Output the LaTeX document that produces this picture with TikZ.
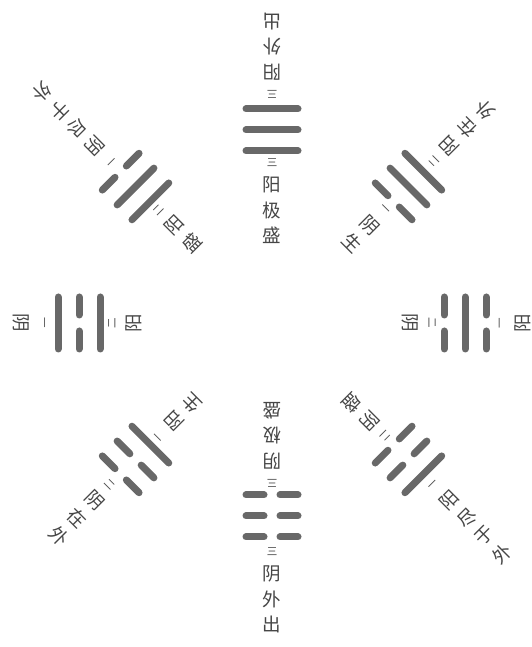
\documentclass[tikz,border=0pt]{standalone}
\usepackage{fontspec}
\newfontfamily\cjk{Noto Sans CJK SC}
\definecolor{yaogray}{RGB}{104,104,104}
\definecolor{zigray}{RGB}{70,70,70}
\tikzset{
  yao/.style={draw=yaogray, line width=7pt, line cap=round},
  zi/.style={text=zigray, font=\cjk\fontsize{18.5}{18.5}\selectfont, inner sep=0pt},
  shu/.style={text=zigray, font=\cjk\fontsize{10.5}{10.5}\selectfont, inner sep=0pt},
}
% one line of a trigram: #1 distance from the centre, #2 = 1 yang, 0 yin
\newcommand{\yao}[2]{%
  \ifnum#2=1
    \draw[yao] (-26,#1) -- (26,#1);
  \else
    \draw[yao] (-26,#1) -- (-8,#1);
    \draw[yao] (8,#1) -- (26,#1);
  \fi}
% one trigram with its inner and outer texts
\newcommand{\gua}[9]{%
  \begin{scope}[shift={(272,324)}, rotate=#2]
    \yao{172}{#3} \yao{193}{#4} \yao{214}{#5}
    \node[shu, rotate=#2] (#1-in0) at (0,160) {#6};
    \foreach \c [count=\i] in {#7}
      \node[zi, rotate=#2] (#1-in\i) at (0,{163-25*\i}) {\c};
    \node[shu, rotate=#2+180] (#1-out0) at (0,229) {#8};
    \foreach \c [count=\i] in {#9}
      \node[zi, rotate=#2+180] (#1-out\i) at (0,{226+25*\i}) {\c};
  \end{scope}}

\begin{document}
\begin{tikzpicture}[x=1pt, y=1pt]
  \useasboundingbox (0,0) rectangle (532,647);

  % 1. 乾 南，坤 北
  \gua{qian}{0}{1}{1}{1}{三}{阳,极,盛}{三}{阳,外,出}
  \gua{kun}{180}{0}{0}{0}{三}{阴,极,盛}{三}{阴,外,出}

  % 2. 离 东（左），坎 西（右）
  \gua{li}{90}{1}{0}{1}{二}{阳}{一}{阴}
  \gua{kan}{-90}{0}{1}{0}{二}{阴}{一}{阳}

  % 3. 兑 东南，巽 西南
  \gua{dui}{45}{1}{1}{0}{二}{阳,盛}{一}{阴,尽,于,外}
  \gua{xun}{-45}{0}{1}{1}{一}{阴,生}{二}{阳,在,外}

  % 4. 震 东北，艮 西北
  \gua{zhen}{135}{1}{0}{0}{一}{阳,生}{二}{阴,在,外}
  \gua{gen}{-135}{0}{0}{1}{二}{阴,盛}{一}{阳,尽,于,外}
\end{tikzpicture}
\end{document}
